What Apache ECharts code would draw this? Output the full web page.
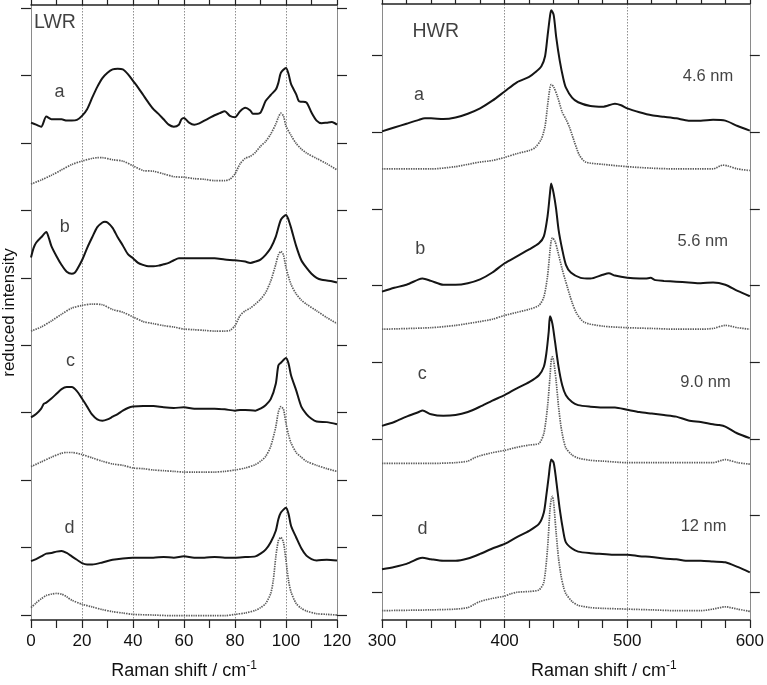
<!DOCTYPE html>
<html><head><meta charset="utf-8">
<script src="https://cdn.jsdelivr.net/npm/echarts@6/dist/echarts.min.js"></script>
<style>html,body{margin:0;padding:0;background:#fff}#c{width:767px;height:685px}</style>
</head><body><div id="c"></div>
<script>
// ---------- tick / label values ----------
const lwrXTicks = [0,10,20,30,40,50,60,70,80,90,100,110,120];
const lwrXLabels = [0,20,40,60,80,100,120];
const hwrXTicks = [300,320,340,360,380,400,420,440,460,480,500,520,540,560,580,600];
const hwrXLabels = [300,400,500,600];
const lwrYTicks = [0,1,2,3,4,5,6,7,8,9];
const hwrYTicks = [0,1,2,3,4,5,6,7];

// ---------- LWR spectra (x: Raman shift, y: offset reduced intensity) ----------
const lwrA_solid = [[0,7.30],[2,7.27],[4,7.24],[6,7.39],[8,7.35],[10,7.35],[12,7.35],[14,7.33],[16,7.33],[18,7.34],[20,7.40],[22,7.50],[24,7.67],[26,7.83],[28,7.96],[30,8.04],[32,8.09],[34,8.10],[36,8.09],[38,8.02],[40,7.92],[42,7.82],[44,7.71],[46,7.60],[48,7.50],[50,7.43],[52,7.35],[54,7.27],[56,7.24],[58,7.27],[59,7.35],[60,7.37],[62,7.30],[64,7.27],[66,7.29],[68,7.33],[70,7.37],[72,7.41],[74,7.44],[76,7.47],[78,7.40],[80,7.38],[82,7.47],[84,7.52],[86,7.48],[87,7.43],[88,7.43],[90,7.45],[92,7.62],[94,7.71],[96,7.79],[97,7.89],[98,8.04],[100,8.11],[101,8.02],[102,7.87],[104,7.72],[105,7.62],[106,7.61],[108,7.60],[110,7.45],[112,7.33],[114,7.29],[116,7.30],[118,7.31],[120,7.27]];
const lwrA_dot = [[0,6.39],[4,6.45],[8,6.52],[12,6.60],[16,6.68],[20,6.73],[24,6.77],[26,6.78],[28,6.78],[32,6.75],[36,6.73],[40,6.66],[44,6.59],[48,6.58],[52,6.54],[56,6.50],[60,6.49],[64,6.47],[68,6.46],[72,6.44],[76,6.44],[78,6.46],[80,6.54],[82,6.69],[84,6.77],[86,6.80],[88,6.86],[90,6.95],[92,7.02],[94,7.13],[96,7.28],[97,7.38],[98,7.44],[99,7.40],[100,7.25],[102,7.11],[104,6.99],[106,6.91],[108,6.85],[112,6.77],[116,6.69],[120,6.60]];
const lwrB_solid = [[0,5.30],[1,5.44],[2,5.52],[4,5.60],[6,5.68],[7,5.59],[8,5.47],[10,5.32],[12,5.19],[14,5.09],[16,5.06],[17,5.07],[18,5.12],[20,5.26],[22,5.44],[24,5.60],[26,5.75],[28,5.82],[29,5.83],[30,5.82],[32,5.74],[34,5.60],[36,5.48],[38,5.35],[40,5.29],[42,5.22],[44,5.19],[46,5.17],[48,5.17],[50,5.18],[52,5.20],[54,5.22],[56,5.26],[58,5.29],[60,5.29],[64,5.29],[68,5.29],[72,5.29],[76,5.27],[80,5.26],[84,5.24],[86,5.22],[88,5.24],[90,5.27],[92,5.34],[94,5.44],[96,5.61],[98,5.86],[100,5.93],[101,5.86],[102,5.74],[104,5.47],[106,5.26],[108,5.15],[110,5.06],[112,5.00],[114,4.97],[116,4.96],[118,4.95],[120,4.93]];
const lwrB_dot = [[0,4.21],[4,4.27],[8,4.36],[12,4.46],[16,4.55],[20,4.59],[24,4.61],[28,4.60],[32,4.53],[36,4.49],[40,4.42],[44,4.35],[48,4.32],[52,4.29],[56,4.27],[60,4.24],[64,4.23],[68,4.22],[72,4.21],[76,4.21],[78,4.22],[80,4.29],[82,4.44],[84,4.51],[86,4.55],[88,4.61],[90,4.68],[92,4.78],[94,4.95],[96,5.20],[97,5.34],[98,5.39],[99,5.34],[100,5.15],[102,4.90],[104,4.76],[106,4.67],[108,4.61],[112,4.51],[116,4.41],[120,4.32]];
const lwrC_solid = [[0,2.93],[2,2.98],[4,3.06],[5,3.13],[6,3.15],[8,3.21],[10,3.28],[12,3.35],[14,3.38],[16,3.38],[18,3.32],[20,3.21],[22,3.09],[24,2.97],[26,2.90],[28,2.88],[30,2.90],[32,2.94],[34,2.98],[36,3.03],[38,3.07],[40,3.09],[44,3.10],[48,3.10],[52,3.08],[56,3.07],[60,3.08],[64,3.06],[68,3.06],[72,3.06],[76,3.05],[80,3.03],[82,3.04],[84,3.04],[88,3.03],[90,3.06],[92,3.11],[94,3.20],[96,3.43],[97,3.70],[98,3.74],[100,3.81],[101,3.73],[102,3.55],[104,3.33],[106,3.09],[108,2.98],[110,2.91],[112,2.87],[116,2.86],[120,2.83]];
const lwrC_dot = [[0,2.20],[4,2.27],[8,2.34],[12,2.40],[14,2.41],[16,2.41],[20,2.38],[24,2.33],[28,2.28],[32,2.24],[36,2.22],[40,2.18],[44,2.17],[48,2.15],[52,2.14],[56,2.13],[60,2.12],[64,2.12],[68,2.12],[72,2.12],[76,2.13],[80,2.15],[84,2.18],[88,2.23],[90,2.28],[92,2.35],[94,2.50],[96,2.79],[97,3.01],[98,3.09],[99,3.05],[100,2.84],[101,2.67],[102,2.55],[104,2.41],[106,2.34],[108,2.28],[112,2.22],[116,2.17],[120,2.13]];
const lwrD_solid = [[0,0.80],[2,0.83],[4,0.87],[6,0.91],[8,0.92],[10,0.94],[12,0.95],[14,0.92],[16,0.87],[18,0.82],[20,0.77],[22,0.75],[24,0.75],[28,0.78],[32,0.82],[36,0.84],[40,0.85],[44,0.85],[48,0.85],[52,0.86],[56,0.85],[60,0.87],[64,0.85],[68,0.85],[72,0.86],[76,0.85],[80,0.85],[84,0.86],[88,0.87],[90,0.91],[92,0.97],[94,1.08],[96,1.25],[97,1.42],[98,1.52],[100,1.59],[101,1.50],[102,1.32],[104,1.15],[106,0.99],[108,0.88],[110,0.83],[112,0.81],[116,0.82],[120,0.81]];
const lwrD_dot = [[0,0.11],[2,0.18],[4,0.24],[6,0.29],[8,0.31],[10,0.32],[12,0.31],[14,0.27],[16,0.22],[20,0.16],[24,0.12],[28,0.08],[32,0.05],[36,0.03],[40,0.01],[48,0.00],[56,-0.01],[64,-0.01],[72,-0.01],[76,-0.01],[80,0.01],[84,0.03],[88,0.07],[90,0.11],[92,0.17],[94,0.32],[95,0.51],[96,0.86],[97,1.10],[98,1.15],[99,1.08],[100,0.81],[101,0.51],[102,0.34],[104,0.17],[106,0.10],[108,0.06],[112,0.02],[116,0.01],[120,0.00]];

// ---------- HWR spectra ----------
const hwrA_solid = [[300,6.01],[310,6.06],[320,6.11],[330,6.16],[335,6.18],[340,6.18],[350,6.17],[360,6.19],[370,6.24],[380,6.31],[390,6.41],[400,6.53],[410,6.65],[420,6.72],[425,6.78],[430,6.86],[433,6.99],[435,7.25],[437,7.51],[438,7.59],[440,7.53],[442,7.25],[445,6.93],[448,6.69],[450,6.58],[455,6.45],[460,6.39],[470,6.34],[480,6.33],[490,6.37],[495,6.35],[500,6.31],[510,6.26],[520,6.22],[530,6.20],[540,6.18],[550,6.15],[560,6.15],[570,6.16],[580,6.15],[590,6.08],[600,6.02]];
const hwrA_dot = [[300,5.52],[340,5.52],[360,5.55],[370,5.58],[380,5.61],[390,5.63],[400,5.67],[410,5.72],[420,5.76],[425,5.80],[430,5.91],[433,6.08],[435,6.34],[437,6.58],[438,6.62],[440,6.59],[443,6.47],[447,6.26],[450,6.17],[453,6.06],[457,5.87],[461,5.70],[466,5.61],[480,5.58],[500,5.55],[520,5.53],[540,5.52],[560,5.52],[570,5.52],[578,5.57],[582,5.56],[590,5.52],[600,5.50]];
const hwrB_solid = [[300,3.92],[310,3.97],[320,4.01],[330,4.08],[333,4.09],[340,4.06],[350,4.01],[360,4.01],[370,4.03],[380,4.08],[390,4.17],[400,4.29],[410,4.38],[420,4.47],[428,4.55],[432,4.64],[435,4.90],[437,5.20],[438,5.33],[440,5.20],[442,5.00],[444,4.73],[447,4.47],[450,4.27],[454,4.17],[462,4.10],[470,4.09],[480,4.14],[485,4.16],[490,4.13],[500,4.10],[510,4.09],[515,4.09],[519,4.10],[523,4.07],[530,4.06],[540,4.05],[550,4.04],[560,4.03],[570,4.04],[580,4.01],[590,3.93],[600,3.86]];
const hwrB_dot = [[300,3.43],[340,3.45],[360,3.48],[380,3.53],[390,3.56],[400,3.61],[410,3.65],[420,3.69],[428,3.74],[432,3.85],[435,4.12],[437,4.45],[438,4.58],[439,4.62],[441,4.58],[443,4.47],[447,4.21],[451,3.99],[455,3.78],[459,3.63],[465,3.52],[480,3.47],[500,3.45],[520,3.44],[540,3.43],[560,3.43],[570,3.44],[580,3.48],[590,3.45],[600,3.43]];
const hwrC_solid = [[300,2.17],[310,2.22],[320,2.29],[330,2.35],[333,2.37],[340,2.32],[350,2.30],[360,2.31],[370,2.35],[380,2.42],[390,2.50],[400,2.57],[410,2.66],[420,2.74],[428,2.83],[432,2.94],[434,3.11],[436,3.40],[437,3.60],[439,3.50],[441,3.28],[444,2.94],[447,2.70],[450,2.57],[455,2.48],[460,2.44],[470,2.42],[480,2.41],[490,2.41],[500,2.38],[510,2.35],[520,2.33],[530,2.31],[540,2.29],[550,2.24],[560,2.22],[570,2.19],[575,2.18],[580,2.16],[590,2.07],[600,2.01]];
const hwrC_dot = [[300,1.68],[340,1.68],[360,1.69],[370,1.71],[375,1.75],[380,1.78],[390,1.82],[400,1.85],[410,1.89],[420,1.92],[428,1.94],[432,2.07],[435,2.42],[437,2.81],[438,3.02],[439,3.07],[440,3.02],[442,2.76],[444,2.42],[446,2.16],[448,1.99],[450,1.88],[455,1.79],[460,1.75],[470,1.72],[480,1.71],[500,1.69],[520,1.69],[540,1.69],[560,1.69],[570,1.69],[580,1.73],[590,1.69],[600,1.67]];
const hwrD_solid = [[300,0.30],[310,0.33],[320,0.37],[330,0.44],[333,0.45],[340,0.43],[350,0.41],[360,0.41],[370,0.44],[380,0.50],[390,0.57],[400,0.63],[410,0.72],[420,0.80],[428,0.89],[432,1.04],[434,1.26],[436,1.51],[438,1.73],[440,1.69],[442,1.47],[445,1.08],[448,0.78],[450,0.65],[455,0.57],[460,0.53],[470,0.51],[480,0.50],[490,0.49],[500,0.49],[510,0.47],[520,0.46],[530,0.44],[540,0.43],[550,0.41],[560,0.41],[570,0.40],[580,0.39],[590,0.33],[600,0.26]];
const hwrD_dot = [[300,-0.24],[340,-0.23],[360,-0.22],[370,-0.20],[375,-0.16],[380,-0.12],[390,-0.08],[400,-0.05],[405,-0.02],[410,0.00],[420,0.01],[428,0.03],[432,0.13],[435,0.57],[437,1.08],[438,1.21],[439,1.25],[440,1.17],[442,0.78],[444,0.44],[446,0.22],[448,0.07],[450,-0.02],[455,-0.12],[460,-0.17],[470,-0.20],[480,-0.21],[500,-0.22],[520,-0.23],[540,-0.24],[560,-0.24],[570,-0.22],[580,-0.19],[590,-0.22],[600,-0.25]];

// ---------- annotations (text anchored at data coordinates) ----------
const lwrTitle = [{value:[9.4,8.79],name:'LWR'}];
const hwrTitle = [{value:[343.9,7.31],name:'HWR'}];
const lwrLetters = [{value:[11.2,7.76],name:'a'},{value:[13.2,5.75],name:'b'},{value:[15.5,3.77],name:'c'},{value:[15.1,1.29],name:'d'}];
const hwrLetters = [{value:[330.1,6.49],name:'a'},{value:[331.1,4.48],name:'b'},{value:[332.9,2.85],name:'c'},{value:[333,0.83],name:'d'}];
const hwrSizes = [{value:[565.9,6.72],name:'4.6 nm'},{value:[561.6,4.57],name:'5.6 nm'},{value:[563.9,2.73],name:'9.0 nm'},{value:[562.3,0.86],name:'12 nm'}];

const FONT = '"Liberation Sans", Arial, Helvetica, sans-serif';
const TXT = '#111111';
const AXC = '#222222';

function xAxes(gi, min, max, interval, ticks, labels, namePad) {
  const common = {type:'value', gridIndex:gi, min:min, max:max, interval:interval};
  return [
    Object.assign({}, common, {
      position:'bottom',
      axisLine:{show:true, onZero:false, lineStyle:{color:AXC, width:1.5}},
      axisTick:{show:true, length:8, customValues:ticks, lineStyle:{color:AXC, width:1.2}},
      axisLabel:{show:true, customValues:labels, margin:13, fontFamily:FONT, fontSize:17, color:TXT},
      splitLine:{show:false},
      name:'{a|Raman shift / cm}{s|-1}', nameLocation:'middle', nameGap:40,
      nameTextStyle:{fontFamily:FONT, padding:namePad,
        rich:{a:{fontFamily:FONT, fontSize:18, color:TXT, lineHeight:22},
              s:{fontFamily:FONT, fontSize:12, color:TXT, verticalAlign:'top', lineHeight:12}}}
    }),
    Object.assign({}, common, {
      position:'top',
      axisLine:{show:true, onZero:false, lineStyle:{color:AXC, width:1.5}},
      axisTick:{show:true, length:5, customValues:ticks, lineStyle:{color:AXC, width:1.2}},
      axisLabel:{show:false}, splitLine:{show:false}
    }),
    Object.assign({}, common, {
      position:'bottom',
      axisLine:{show:false, onZero:false}, axisTick:{show:false}, axisLabel:{show:false},
      splitLine:{show:true, lineStyle:{color:'#8f8f8f', type:[1.5,1.5], width:1}}
    })
  ];
}
function yAxes(gi, min, max, ticks, withName) {
  const common = {type:'value', gridIndex:gi, min:min, max:max,
    axisLine:{show:true, onZero:false, lineStyle:{color:'#8a8a8a', width:1}},
    axisTick:{show:true, length:10, customValues:ticks, lineStyle:{color:AXC, width:1.2}},
    axisLabel:{show:false}, splitLine:{show:false}};
  const left = Object.assign({}, common, {position:'left'});
  if (withName) {
    left.name = 'reduced intensity'; left.nameLocation = 'middle'; left.nameGap = 13;
    left.nameTextStyle = {fontFamily:FONT, fontSize:17, color:TXT};
  }
  return [left, Object.assign({}, common, {position:'right'})];
}

function line(data, xi, yi, dotted) {
  return {
    type:'line', data:data, xAxisIndex:xi, yAxisIndex:yi, showSymbol:false, symbol:'none',
    smooth:0.25, silent:true, z: dotted ? 2 : 3,
    lineStyle: dotted ? {color:'#5c5c5c', width:1.7, type:[1.4,1]} : {color:'#151515', width:2}
  };
}
function notes(data, xi, yi, size) {
  return {type:'scatter', data:data, xAxisIndex:xi, yAxisIndex:yi, symbolSize:0, silent:true, z:5,
    label:{show:true, position:'inside', formatter:'{b}', fontFamily:FONT, fontSize:size, color:TXT}};
}

const option = {
  backgroundColor:'#ffffff',
  animation:false,
  grid:[
    {left:29, right:430, top:5, bottom:60},
    {left:382, right:16, top:4, bottom:60}
  ],
  xAxis: [].concat(
    xAxes(0, 0, 120, 20, lwrXTicks, lwrXLabels, [0,0,0,0]),
    xAxes(1, 300, 600, 100, hwrXTicks, hwrXLabels, [0,0,0,76])
  ),
  yAxis: [].concat(
    yAxes(0, -0.0735, 9.044, lwrYTicks, true),
    yAxes(1, -0.362, 7.671, hwrYTicks, false)
  ),
  series: [
    line(lwrA_solid,0,0,false), line(lwrA_dot,0,0,true),
    line(lwrB_solid,0,0,false), line(lwrB_dot,0,0,true),
    line(lwrC_solid,0,0,false), line(lwrC_dot,0,0,true),
    line(lwrD_solid,0,0,false), line(lwrD_dot,0,0,true),
    line(hwrA_solid,3,2,false), line(hwrA_dot,3,2,true),
    line(hwrB_solid,3,2,false), line(hwrB_dot,3,2,true),
    line(hwrC_solid,3,2,false), line(hwrC_dot,3,2,true),
    line(hwrD_solid,3,2,false), line(hwrD_dot,3,2,true),
    notes(lwrTitle,0,0,19.5), notes(hwrTitle,3,2,19.5),
    notes(lwrLetters,0,0,18), notes(hwrLetters,3,2,18),
    notes(hwrSizes,3,2,16.5)
  ]
};
const chart = echarts.init(document.getElementById('c'), null, {renderer:'canvas'});
chart.setOption(option);
</script></body></html>
